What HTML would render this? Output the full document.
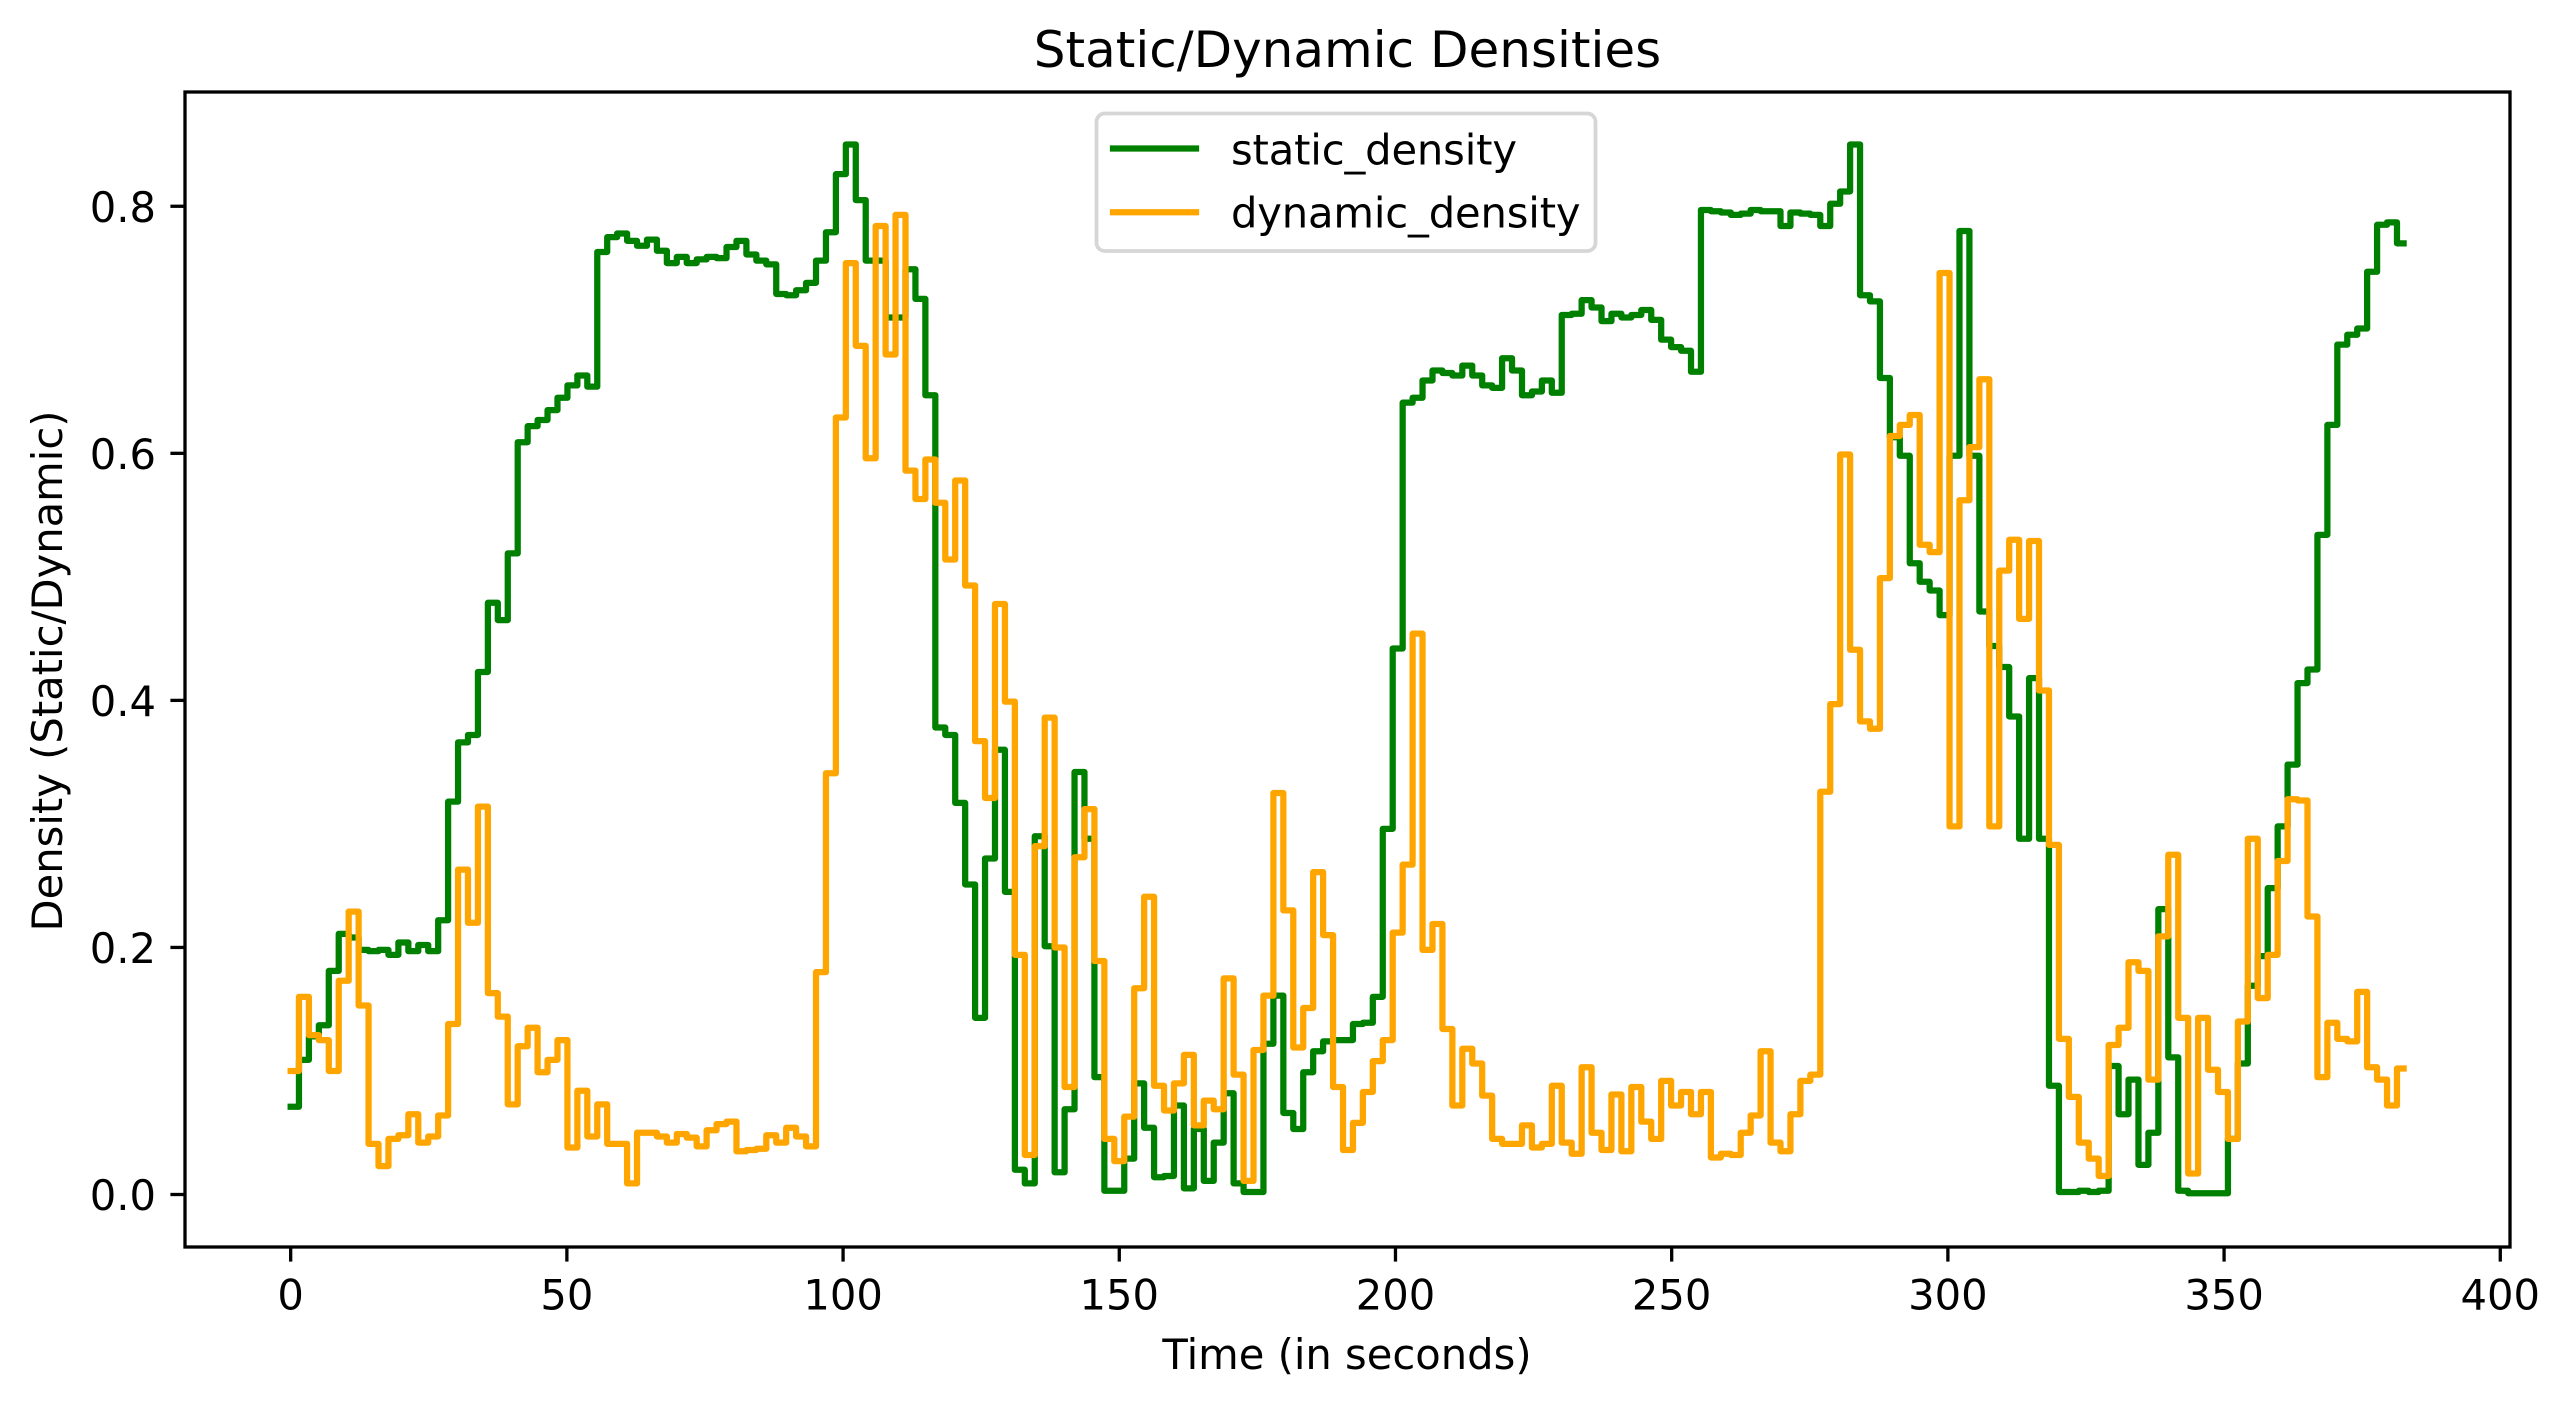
<!DOCTYPE html>
<html lang="en">
<head>
<meta charset="utf-8">
<title>Static/Dynamic Densities</title>
<style>
html,body{margin:0;padding:0;background:#fff;width:2570px;height:1407px;overflow:hidden}
svg{display:block}
text{font-family:"DejaVu Sans","Liberation Sans",sans-serif;fill:#000}
</style>
</head>
<body>
<svg id="chart" xmlns="http://www.w3.org/2000/svg" width="2570" height="1407" viewBox="0 0 2570 1407">
  <rect x="0" y="0" width="2570" height="1407" fill="#fff"/>
  <g id="series"></g>
  <g id="x-ticks"></g>
  <g id="y-ticks"></g>
  <rect x="185" y="92" width="2325" height="1155" fill="none" stroke="#000" stroke-width="3.3"/>
  <text x="1347.5" y="67" font-size="50" text-anchor="middle">Static/Dynamic Densities</text>
  <text x="1347" y="1369" font-size="41.67" text-anchor="middle">Time (in seconds)</text>
  <text x="0" y="0" font-size="41.67" text-anchor="middle" transform="translate(62 671) rotate(-90)">Density (Static/Dynamic)</text>
  <g>
    <rect x="1096.5" y="113.5" width="499" height="137.5" rx="8.3" ry="8.3" fill="#fff" fill-opacity="0.8" stroke="#ccc" stroke-opacity="0.8" stroke-width="3.8"/>
    <line x1="1113" x2="1196" y1="148.5" y2="148.5" stroke="#008000" stroke-width="6.25" stroke-linecap="square"/>
    <text x="1231" y="164.3" font-size="41.67" letter-spacing="-0.15">static_density</text>
    <line x1="1113" x2="1196" y1="212.3" y2="212.3" stroke="#ffa500" stroke-width="6.25" stroke-linecap="square"/>
    <text x="1231" y="227.5" font-size="41.67" letter-spacing="-0.15">dynamic_density</text>
  </g>
</svg>
<script>
const xTickLabels = [0, 50, 100, 150, 200, 250, 300, 350, 400];
const yTickLabels = ["0.0", "0.2", "0.4", "0.6", "0.8"];
const staticDensity = [
0.071,0.109,0.128,0.137,0.181,0.211,0.208,0.198,0.197,0.198,0.194,0.204,0.197,0.202,0.197,0.222,0.318,0.366,0.372,0.423,
0.479,0.465,0.519,0.609,0.622,0.627,0.635,0.645,0.655,0.663,0.654,0.763,0.775,0.778,0.772,0.768,0.773,0.764,0.754,0.759,
0.754,0.757,0.759,0.758,0.767,0.772,0.761,0.756,0.753,0.729,0.728,0.732,0.738,0.756,0.779,0.826,0.850,0.805,0.756,0.756,
0.710,0.710,0.749,0.725,0.647,0.378,0.372,0.317,0.251,0.143,0.272,0.360,0.245,0.020,0.009,0.290,0.201,0.018,0.069,0.342,
0.288,0.095,0.003,0.003,0.029,0.090,0.054,0.014,0.015,0.072,0.005,0.053,0.011,0.042,0.082,0.009,0.002,0.002,0.122,0.161,
0.066,0.053,0.099,0.116,0.124,0.125,0.125,0.138,0.139,0.160,0.296,0.442,0.641,0.645,0.659,0.667,0.665,0.663,0.671,0.663,
0.655,0.653,0.677,0.667,0.647,0.650,0.659,0.649,0.712,0.713,0.724,0.718,0.707,0.713,0.710,0.712,0.716,0.708,0.692,0.686,
0.683,0.666,0.797,0.796,0.795,0.793,0.794,0.797,0.796,0.796,0.784,0.795,0.794,0.793,0.784,0.802,0.812,0.850,0.728,0.723,
0.661,0.613,0.598,0.511,0.496,0.489,0.469,0.598,0.780,0.598,0.472,0.444,0.427,0.387,0.288,0.418,0.288,0.088,0.002,0.002,
0.003,0.002,0.003,0.104,0.065,0.093,0.024,0.050,0.231,0.111,0.003,0.001,0.001,0.001,0.001,0.045,0.106,0.169,0.193,0.248,
0.298,0.348,0.414,0.425,0.534,0.623,0.688,0.696,0.701,0.747,0.785,0.787,0.770
];
const dynamicDensity = [
0.100,0.160,0.129,0.125,0.100,0.173,0.229,0.153,0.041,0.023,0.045,0.048,0.065,0.042,0.047,0.064,0.138,0.263,0.220,0.314,
0.163,0.144,0.073,0.120,0.135,0.099,0.109,0.125,0.038,0.084,0.047,0.073,0.041,0.041,0.009,0.050,0.050,0.047,0.042,0.049,
0.046,0.039,0.052,0.057,0.059,0.035,0.036,0.037,0.048,0.042,0.054,0.047,0.039,0.180,0.341,0.629,0.754,0.687,0.596,0.784,
0.680,0.793,0.586,0.563,0.595,0.560,0.514,0.578,0.493,0.367,0.321,0.478,0.399,0.194,0.032,0.282,0.386,0.200,0.087,0.273,
0.312,0.189,0.045,0.027,0.063,0.167,0.241,0.088,0.068,0.090,0.113,0.056,0.076,0.069,0.175,0.097,0.011,0.117,0.161,0.325,
0.230,0.119,0.151,0.261,0.210,0.087,0.036,0.058,0.083,0.108,0.125,0.212,0.267,0.454,0.198,0.219,0.134,0.072,0.118,0.106,
0.080,0.045,0.041,0.041,0.056,0.038,0.041,0.088,0.042,0.033,0.103,0.050,0.036,0.081,0.035,0.087,0.059,0.045,0.092,0.072,
0.083,0.065,0.083,0.030,0.033,0.032,0.050,0.064,0.116,0.042,0.035,0.065,0.092,0.097,0.326,0.397,0.599,0.441,0.383,0.377,
0.499,0.614,0.623,0.631,0.526,0.520,0.746,0.298,0.562,0.605,0.660,0.298,0.505,0.530,0.466,0.529,0.408,0.283,0.126,0.079,
0.042,0.029,0.015,0.121,0.135,0.188,0.181,0.093,0.209,0.275,0.143,0.017,0.143,0.101,0.083,0.045,0.140,0.288,0.159,0.194,
0.270,0.320,0.319,0.225,0.095,0.139,0.126,0.124,0.164,0.103,0.093,0.072,0.102
];
const firstStepSeconds = 1.5;
const stepSeconds = 1.8;
const lastSeconds = 382.5;

const NS = "http://www.w3.org/2000/svg";
const axesLeft = 185, axesRight = 2510, axesTop = 92, axesBottom = 1247;
const xMin = -19.13, xMax = 401.76, yMin = -0.0425, yMax = 0.8925;
function xScale(t){ return axesLeft + (t - xMin) / (xMax - xMin) * (axesRight - axesLeft); }
function yScale(v){ return axesBottom - (v - yMin) / (yMax - yMin) * (axesBottom - axesTop); }
function stepEdge(i){ return i === 0 ? 0 : Math.min(firstStepSeconds + stepSeconds * (i - 1), lastSeconds); }
function stepPath(values){
  let d = "";
  values.forEach(function(v, i){
    const y = yScale(v).toFixed(2);
    d += (i === 0 ? "M" : "L") + xScale(stepEdge(i)).toFixed(2) + " " + y;
    d += "L" + xScale(stepEdge(i + 1)).toFixed(2) + " " + y;
  });
  return d;
}
const seriesGroup = document.getElementById("series");

const staticLine = document.createElementNS(NS, "path");
staticLine.setAttribute("d", stepPath(staticDensity));
staticLine.setAttribute("fill", "none");
staticLine.setAttribute("stroke", "#008000");
staticLine.setAttribute("stroke-width", "6.25");
staticLine.setAttribute("stroke-linejoin", "round");
staticLine.setAttribute("stroke-linecap", "square");


seriesGroup.appendChild(staticLine);

const dynamicLine = document.createElementNS(NS, "path");
dynamicLine.setAttribute("d", stepPath(dynamicDensity));
dynamicLine.setAttribute("fill", "none");
dynamicLine.setAttribute("stroke", "#ffa500");
dynamicLine.setAttribute("stroke-width", "6.25");
dynamicLine.setAttribute("stroke-linejoin", "round");
dynamicLine.setAttribute("stroke-linecap", "square");


seriesGroup.appendChild(dynamicLine);

const xTickGroup = document.getElementById("x-ticks");
xTickLabels.forEach(function(label){
  const x = xScale(label);
  const mark = document.createElementNS(NS, "line");
  mark.setAttribute("x1", x);
  mark.setAttribute("x2", x);
  mark.setAttribute("y1", axesBottom);
  mark.setAttribute("y2", axesBottom + 14.6);
  mark.setAttribute("stroke", "#000");
  mark.setAttribute("stroke-width", "3.3");
  
  
  xTickGroup.appendChild(mark);
  const text = document.createElementNS(NS, "text");
  text.setAttribute("x", x);
  text.setAttribute("y", 1309.5);
  text.setAttribute("font-size", "41.67");
  text.setAttribute("text-anchor", "middle");
  
  
  text.textContent = String(label);
  xTickGroup.appendChild(text);
});

const yTickGroup = document.getElementById("y-ticks");
yTickLabels.forEach(function(label){
  const y = yScale(parseFloat(label));
  const mark = document.createElementNS(NS, "line");
  mark.setAttribute("x1", axesLeft - 14.6);
  mark.setAttribute("x2", axesLeft);
  mark.setAttribute("y1", y);
  mark.setAttribute("y2", y);
  mark.setAttribute("stroke", "#000");
  mark.setAttribute("stroke-width", "3.3");
  
  
  yTickGroup.appendChild(mark);
  const text = document.createElementNS(NS, "text");
  text.setAttribute("x", 156);
  text.setAttribute("y", y + 15.5);
  text.setAttribute("font-size", "41.67");
  text.setAttribute("text-anchor", "end");
  
  
  text.textContent = label;
  yTickGroup.appendChild(text);
});
</script>
</body>
</html>
